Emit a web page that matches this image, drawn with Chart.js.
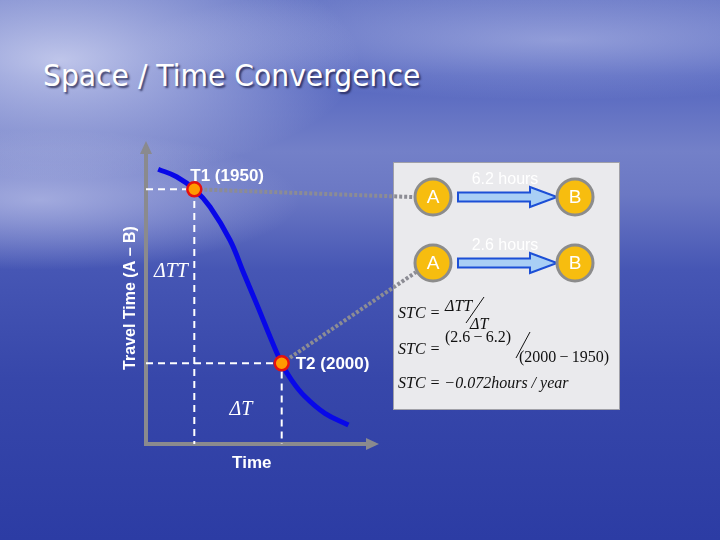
<!DOCTYPE html>
<html>
<head>
<meta charset="utf-8">
<script src="https://cdn.jsdelivr.net/npm/chart.js@4.4.1/dist/chart.umd.min.js"></script>
<style>
  html, body { margin: 0; padding: 0; }
  #slide {
    position: relative; width: 720px; height: 540px; overflow: hidden;
    background:
      radial-gradient(ellipse 300px 120px at 60px 60px, rgba(225,228,248,0.75), rgba(225,228,248,0) 100%),
      radial-gradient(ellipse 420px 60px at 560px 40px, rgba(210,215,245,0.45), rgba(210,215,245,0) 100%),
      radial-gradient(ellipse 260px 70px at 40px 200px, rgba(200,205,240,0.6), rgba(200,205,240,0) 100%),
      linear-gradient(180deg, #6474c4 0%, #5566bf 14%, #7380c8 28%, #6b78c4 36%, #4656b4 50%, #3747aa 70%, #2c3ca4 100%);
  }
  #title {
    position: absolute; left: 43px; top: 58px; margin: 0;
    font: 30px "DejaVu Sans", sans-serif; color: #fff;
    text-shadow: 2px 2px 2px rgba(20,20,60,0.7);
    white-space: nowrap;
    transform: scaleX(0.94); transform-origin: left top;
  }
  #chart { position: absolute; left: 0; top: 0; }
</style>
</head>
<body>
<div id="slide">
  <div id="title">Space / Time Convergence</div>
  <canvas id="chart" width="720" height="540"></canvas>
</div>
<script>
// curve of travel time against time (arbitrary 0-100 units)
const curveX = [5.3, 13.3, 21.0, 27.8, 36.5, 42.5, 48.6, 54.5, 59.0, 63.3, 69.1, 77.8, 88.0];
const curveY = [91.6, 89.1, 84.9, 79.1, 68.0, 56.9, 45.8, 34.7, 26.9, 21.3, 15.8, 10.2, 6.3];

// the two marked moments
const markYears = [1950, 2000];
const markX = [21.0, 59.0];
const markY = [84.9, 26.9];
const travelHours = [6.2, 2.6];

// where the dotted connectors end (left edge of the A circles)
const linkX = [117, 117.4];
const linkY = [82.3, 57.3];

const curve = curveX.map((x, i) => ({ x: x, y: curveY[i] }));
const marks = markX.map((x, i) => ({ x: x, y: markY[i] }));

function guide(i) {
  return [{ x: 0, y: markY[i] }, { x: markX[i], y: markY[i] }, { x: markX[i], y: 0 }];
}
function link(i) {
  return [{ x: markX[i], y: markY[i] }, { x: linkX[i], y: linkY[i] }];
}

function circle(ctx, x, y, label) {
  ctx.beginPath();
  ctx.arc(x, y, 18, 0, Math.PI * 2);
  ctx.fillStyle = '#f7bd0f';
  ctx.fill();
  ctx.lineWidth = 3;
  ctx.strokeStyle = '#8c8c8c';
  ctx.stroke();
  ctx.fillStyle = '#fff';
  ctx.font = '19px "Liberation Sans", Arial, sans-serif';
  ctx.textAlign = 'center';
  ctx.textBaseline = 'middle';
  ctx.fillText(label, x, y + 1);
}

function arrow(ctx, x0, x1, y) {
  ctx.beginPath();
  ctx.moveTo(x0, y - 4.5);
  ctx.lineTo(x1 - 27, y - 4.5);
  ctx.lineTo(x1 - 27, y - 10);
  ctx.lineTo(x1, y);
  ctx.lineTo(x1 - 27, y + 10);
  ctx.lineTo(x1 - 27, y + 4.5);
  ctx.lineTo(x0, y + 4.5);
  ctx.closePath();
  ctx.fillStyle = '#a9cff5';
  ctx.fill();
  ctx.lineWidth = 2;
  ctx.strokeStyle = '#1c4fd6';
  ctx.stroke();
}

const slideDecor = {
  id: 'slideDecor',
  beforeDatasetsDraw(chart) {
    const ctx = chart.ctx;
    const xs = chart.scales.x, ys = chart.scales.y;
    const ox = xs.getPixelForValue(0), oy = ys.getPixelForValue(0);
    const top = ys.getPixelForValue(100), right = xs.getPixelForValue(100);
    ctx.save();
    // info box
    ctx.fillStyle = '#eaeaed';
    ctx.fillRect(393, 162, 227, 248);
    ctx.strokeStyle = '#a0a0a8';
    ctx.lineWidth = 1;
    ctx.strokeRect(393.5, 162.5, 226, 247);
    // axes with arrow heads
    ctx.strokeStyle = '#8a8a8e';
    ctx.fillStyle = '#8a8a8e';
    ctx.lineWidth = 4;
    ctx.beginPath();
    ctx.moveTo(ox, top + 8);
    ctx.lineTo(ox, oy);
    ctx.lineTo(right - 8, oy);
    ctx.stroke();
    ctx.beginPath();
    ctx.moveTo(ox, top - 3); ctx.lineTo(ox - 6, top + 10); ctx.lineTo(ox + 6, top + 10); ctx.closePath();
    ctx.fill();
    ctx.beginPath();
    ctx.moveTo(right + 3, oy); ctx.lineTo(right - 10, oy - 6); ctx.lineTo(right - 10, oy + 6); ctx.closePath();
    ctx.fill();
    ctx.restore();
  },
  afterDatasetsDraw(chart) {
    const ctx = chart.ctx;
    const xs = chart.scales.x, ys = chart.scales.y;
    ctx.save();
    ctx.fillStyle = '#fff';
    ctx.textAlign = 'left';
    ctx.textBaseline = 'alphabetic';
    ctx.font = 'bold 17px "Liberation Sans", Arial, sans-serif';
    ctx.fillText('T1 (' + markYears[0] + ')', xs.getPixelForValue(markX[0]) - 4, ys.getPixelForValue(markY[0]) - 8);
    ctx.fillText('T2 (' + markYears[1] + ')', xs.getPixelForValue(markX[1]) + 14, ys.getPixelForValue(markY[1]) + 6);
    ctx.textAlign = 'center';
    ctx.fillText('Time', xs.getPixelForValue(46), 468);
    ctx.font = 'italic 20px "Liberation Serif", "Times New Roman", serif';
    ctx.fillText('\u0394TT', 171, 277);
    ctx.fillText('\u0394T', 241, 415);
    // y axis title
    ctx.save();
    ctx.translate(135, 298);
    ctx.rotate(-Math.PI / 2);
    ctx.font = 'bold 16px "Liberation Sans", Arial, sans-serif';
    ctx.fillText('Travel Time (A \u2013 B)', 0, 0);
    ctx.restore();

    // A -> B diagrams
    const rows = [197, 263];
    rows.forEach((y, i) => {
      arrow(ctx, 458, 557, y);
      circle(ctx, 433, y, 'A');
      circle(ctx, 575, y, 'B');
      ctx.fillStyle = '#fff';
      ctx.font = '16px "Liberation Sans", Arial, sans-serif';
      ctx.textAlign = 'center';
      ctx.textBaseline = 'alphabetic';
      ctx.fillText(travelHours[i] + ' hours', 505, y - 13);
    });

    // formulas
    const stc = Math.abs((travelHours[1] - travelHours[0]) / (markYears[1] - markYears[0])).toFixed(3);
    ctx.fillStyle = '#111';
    ctx.textAlign = 'left';
    ctx.textBaseline = 'alphabetic';
    const it = 'italic 16px "Liberation Serif", "Times New Roman", serif';
    const up = '16px "Liberation Serif", "Times New Roman", serif';
    ctx.font = it;
    ctx.fillText('STC = ', 398, 318);
    ctx.fillText('\u0394TT', 445, 311);
    ctx.fillText('\u0394T', 470, 329);
    ctx.strokeStyle = '#111';
    ctx.lineWidth = 1;
    ctx.beginPath(); ctx.moveTo(484, 297); ctx.lineTo(466, 323); ctx.stroke();

    ctx.fillText('STC = ', 398, 354);
    ctx.font = up;
    ctx.fillText('(2.6\u2009\u2212\u20096.2)', 445, 342);
    ctx.fillText('(2000\u2009\u2212\u20091950)', 519, 362);
    ctx.beginPath(); ctx.moveTo(530, 332); ctx.lineTo(516, 358); ctx.stroke();

    ctx.font = it;
    ctx.fillText('STC = \u2212' + stc + 'hours / year', 398, 388);
    ctx.restore();
  }
};

new Chart(document.getElementById('chart').getContext('2d'), {
  type: 'scatter',
  data: {
    datasets: [
      {
        data: marks, order: 0,
        pointRadius: 7, pointBackgroundColor: '#ff9a00',
        pointBorderColor: '#e41010', pointBorderWidth: 2.5, showLine: false
      },
      {
        data: curve, order: 1, showLine: true,
        borderColor: '#0808e8', borderWidth: 5, pointRadius: 0,
        tension: 0.4
      },
      {
        data: link(0), order: 2, showLine: true, clip: false,
        borderColor: '#8c8c94', borderWidth: 4, borderDash: [3, 2], pointRadius: 0
      },
      {
        data: link(1), order: 2, showLine: true, clip: false,
        borderColor: '#8c8c94', borderWidth: 4, borderDash: [3, 2], pointRadius: 0
      },
      {
        data: guide(0), order: 3, showLine: true, clip: false,
        borderColor: '#ffffff', borderWidth: 2, borderDash: [7, 5], pointRadius: 0
      },
      {
        data: guide(1), order: 3, showLine: true, clip: false,
        borderColor: '#ffffff', borderWidth: 2, borderDash: [7, 5], pointRadius: 0
      }
    ]
  },
  options: {
    responsive: false,
    devicePixelRatio: 1,
    animation: false,
    layout: { padding: { left: 146, top: 144, right: 344, bottom: 96 } },
    scales: {
      x: { type: 'linear', min: 0, max: 100, display: false },
      y: { type: 'linear', min: 0, max: 100, display: false }
    },
    plugins: { legend: { display: false }, tooltip: { enabled: false } }
  },
  plugins: [slideDecor]
});
</script>
</body>
</html>
